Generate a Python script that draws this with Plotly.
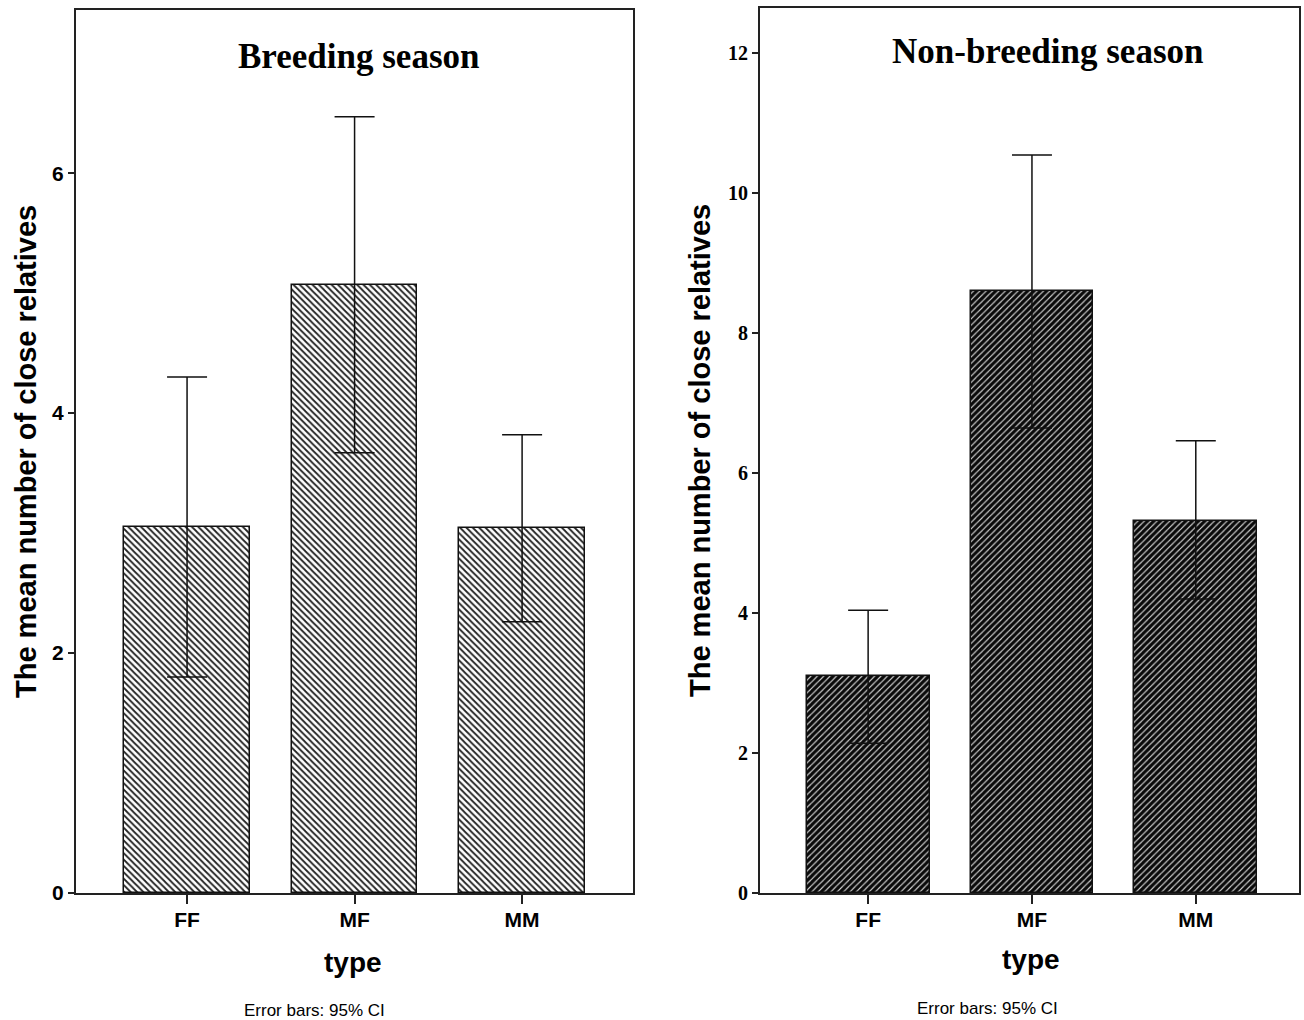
import plotly.graph_objects as go

categories = ["FF", "MF", "MM"]

breeding_mean = [3.05, 5.07, 3.04]
breeding_upper = [4.30, 6.47, 3.82]
breeding_lower = [1.80, 3.67, 2.26]

nonbreeding_mean = [3.10, 8.60, 5.31]
nonbreeding_upper = [4.04, 10.54, 6.46]
nonbreeding_lower = [2.14, 6.64, 4.20]

left_ticks = [0, 2, 4, 6]
right_ticks = [0, 2, 4, 6, 8, 10, 12]

W, H = 1304, 1031
SY = H / 1020.0  # vertical compensation

def err(mean, up, lo):
    return dict(type="data", symmetric=False,
                array=[u - m for u, m in zip(up, mean)],
                arrayminus=[m - l for m, l in zip(mean, lo)],
                color="#111", thickness=1.5, width=20)

fig = go.Figure()
fig.add_trace(go.Bar(
    x=categories, y=breeding_mean, width=0.75, xaxis="x", yaxis="y",
    marker=dict(color="white", line=dict(color="#111", width=1.5),
                pattern=dict(shape="\\", size=4.5, solidity=0.4, fgcolor="#222",
                             bgcolor="white", fillmode="replace")),
    error_y=err(breeding_mean, breeding_upper, breeding_lower),
    showlegend=False,
))
fig.add_trace(go.Bar(
    x=categories, y=nonbreeding_mean, width=0.75, xaxis="x2", yaxis="y2",
    marker=dict(color="black", line=dict(color="#111", width=1.5),
                pattern=dict(shape="/", size=4.5, solidity=0.25, fgcolor="#d8d8d8",
                             bgcolor="#0a0a0a", fillmode="replace")),
    error_y=err(nonbreeding_mean, nonbreeding_upper, nonbreeding_lower),
    showlegend=False,
))

axcommon = dict(showline=True, linecolor="#222", linewidth=2, mirror=True,
                showgrid=False, zeroline=False, ticks="outside", tickcolor="#222")

cat_text = [f"<b>{c}</b>" for c in categories]

def py(y):
    return 1 - (y * SY) / H

fig.update_layout(
    width=W, height=H,
    margin=dict(l=0, r=0, t=0, b=0),
    paper_bgcolor="white", plot_bgcolor="white",
    bargap=0,
    xaxis=dict(domain=[76 / W, 633 / W], range=[-0.663, 2.662], anchor="y",
               tickvals=categories, ticktext=cat_text,
               tickfont=dict(family="Liberation Sans", size=21, color="black"),
               ticklen=9, tickwidth=1.5, ticklabelstandoff=-2, **axcommon),
    yaxis=dict(domain=[py(893), py(10)], range=[0, 7.36], anchor="x",
               tickvals=left_ticks, ticktext=[f"<b>{t}</b>" for t in left_ticks],
               tickfont=dict(family="Liberation Sans", size=21, color="black"),
               ticklen=6, tickwidth=1.5, **axcommon),
    xaxis2=dict(domain=[760 / W, 1299 / W], range=[-0.66, 2.63], anchor="y2",
                tickvals=categories, ticktext=cat_text,
                tickfont=dict(family="Liberation Sans", size=21, color="black"),
                ticklen=9, tickwidth=1.5, ticklabelstandoff=-2, **axcommon),
    yaxis2=dict(domain=[py(893), py(8)], range=[0, 12.64], anchor="x2",
                tickvals=right_ticks, ticktext=[f"<b>{t}</b>" for t in right_ticks],
                tickfont=dict(family="Liberation Serif", size=20, color="black"),
                ticklen=6, tickwidth=1.5, **axcommon),
)

def ann(text, x, y, size, family="Liberation Sans", bold=True, angle=0):
    t = f"<b>{text}</b>" if bold else text
    fig.add_annotation(text=t, x=x / W, y=py(y), xref="paper", yref="paper",
                       showarrow=False, textangle=angle, xanchor="center", yanchor="middle",
                       font=dict(family=family, size=size, color="black"))

ann("Breeding season", 358, 56, 35, family="Liberation Serif")
ann("Non-breeding season", 1047, 51, 35, family="Liberation Serif")
ann("The mean number of close relatives", 26, 452, 29, angle=-90)
ann("The mean number of close relatives", 700, 451, 29, angle=-90)
ann("type", 353, 962, 28)
ann("type", 1031, 960, 28)
ann("Error bars: 95% CI", 314, 1010, 17, bold=False)
ann("Error bars: 95% CI", 988, 1008, 17, bold=False)

fig.write_html(
    "out.html",
    config={"displayModeBar": False},
    post_script=(
        "document.documentElement.style.margin='0';"
        "document.body.style.margin='0';document.body.style.overflow='hidden';"
        "var d=document.getElementById('{plot_id}');"
        "d.style.position='fixed';d.style.top='0px';d.style.left='0px';"
    ),
)
